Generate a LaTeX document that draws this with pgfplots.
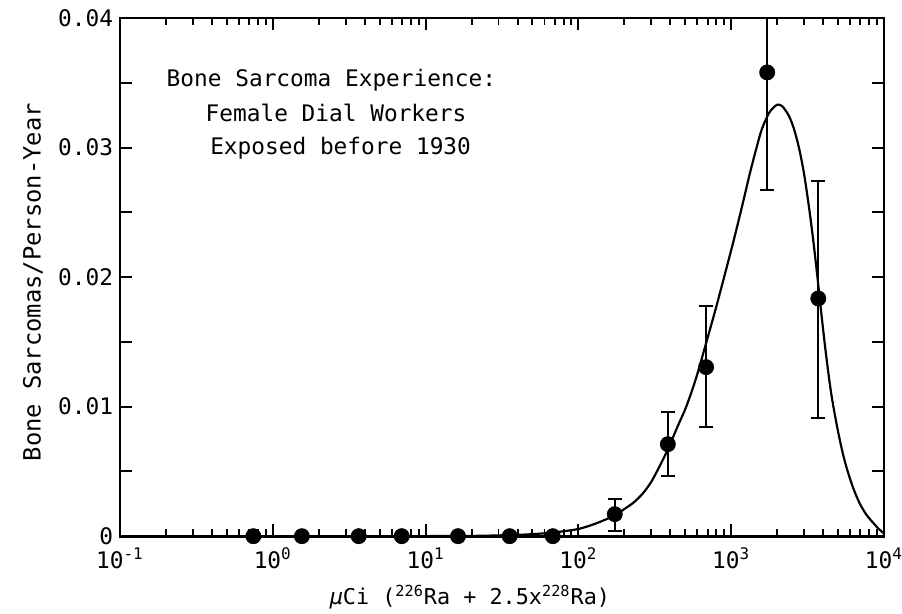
\documentclass[border=0pt]{standalone}
\usepackage{fontspec}
\setmainfont{DejaVu Sans Mono}
\usepackage{pgfplots}
\pgfplotsset{compat=1.18}

\begin{document}
\begin{tikzpicture}
\begin{axis}[
    xmode=log,
    scale only axis,
    width=13.55cm, height=9.19cm,
    xmin=0.1, xmax=10000,
    ymin=0, ymax=0.04,
    xtick={0.1,1,10,100,1000,10000},
    xticklabels={10\textsuperscript{-1},10\textsuperscript{0},10\textsuperscript{1},10\textsuperscript{2},10\textsuperscript{3},10\textsuperscript{4}},
    ytick={0,0.01,0.02,0.03,0.04},
    yticklabels={0,0.01,0.02,0.03,0.04},
    extra y ticks={0.005,0.015,0.025,0.035},
    extra y tick labels={},
    scaled y ticks=false,
    axis line style={line width=1.4pt},
    every tick/.style={black, line width=1pt},
    major tick length=6pt, minor tick length=3.5pt,
    tick label style={font=\fontsize{11.5}{13}\selectfont},
    xticklabel style={yshift=-2.5pt},
    label style={font=\fontsize{12}{14}\selectfont},
    xlabel={\fontsize{11}{13}\selectfont\itshape μ\upshape Ci\ (\textsuperscript{226}Ra + 2.5x\textsuperscript{228}Ra)},
    ylabel={Bone Sarcomas/Person-Year},
    xlabel style={at={(axis description cs:0.458,-0.118)}, anchor=center},
    ylabel style={at={(axis description cs:-0.114,0.49)}, anchor=center},
]
% fitted curve
\addplot[black, line width=1.1pt, smooth, tension=0.5] coordinates {
(10,0.000006) (20,0.00002) (40,0.0001) (60,0.00022) (80,0.00038)
(102,0.00058) (130,0.00098) (173,0.0016) (200,0.0021) (230,0.0026)
(264,0.0033) (300,0.0042) (340,0.0054) (385,0.0067) (447,0.0085)
(508,0.0100) (589,0.0122) (685,0.0149) (794,0.0176) (927,0.0206)
(1047,0.0230) (1191,0.0257) (1318,0.0279) (1458,0.0299) (1585,0.0314)
(1754,0.0326) (1862,0.0330) (1995,0.0333) (2153,0.0332) (2384,0.03245)
(2574,0.03144) (2780,0.02995) (2999,0.02796) (3236,0.02531) (3460,0.02263)
(3715,0.01938) (3928,0.01673) (4171,0.01405) (4500,0.01111) (4861,0.00884)
(5250,0.00691) (5665,0.00536) (6267,0.00376) (6934,0.00253) (7676,0.00165)
(8497,0.00103) (9170,0.0006) (10000,0.0002)
};
% zero observations
\addplot[black, only marks, mark=*, mark size=3.8pt] coordinates {
(0.746,0) (1.55,0) (3.65,0) (6.98,0) (16.3,0) (35.5,0) (68,0)
};
% observations with error bars
\addplot[black, only marks, mark=*, mark size=3.8pt,
    error bars/.cd, y dir=both, y explicit,
    error bar style={line width=1pt},
    error mark options={rotate=90, black, mark size=3.5pt, line width=1pt}]
table[x=x, y=y, y error plus=ep, y error minus=em] {
x     y       ep      em
173   0.0017  0.0012  0.0013
385   0.0071  0.00245 0.00245
685   0.01305 0.0047  0.0046
1720  0.0358  0.0042  0.0091
3715  0.01835 0.0091  0.0092
};
\node[anchor=west, font=\fontsize{11.5}{13}\selectfont] at (axis description cs:0.052,0.880) {Bone Sarcoma Experience:};
\node[anchor=west, font=\fontsize{11.5}{13}\selectfont] at (axis description cs:0.103,0.817) {Female Dial Workers};
\node[anchor=west, font=\fontsize{11.5}{13}\selectfont] at (axis description cs:0.109,0.749) {Exposed before 1930};
\coordinate (sw) at (rel axis cs:0,0);
\coordinate (ne) at (rel axis cs:1,1);
\end{axis}
\pgfresetboundingbox
\useasboundingbox ([xshift=-2.128cm,yshift=-1.366cm]sw) rectangle ([xshift=0.319cm,yshift=0.319cm]ne);
\end{tikzpicture}
\end{document}
